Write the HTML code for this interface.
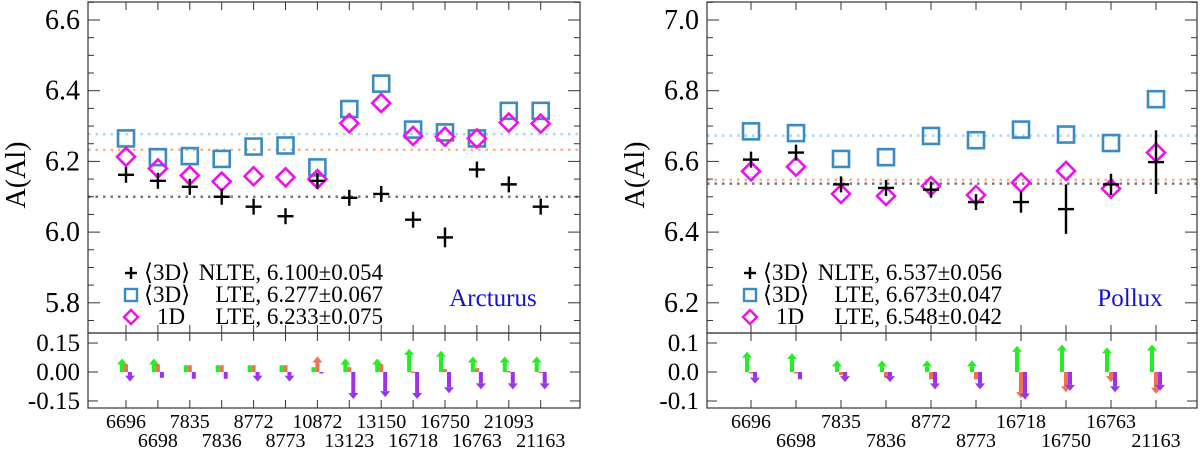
<!DOCTYPE html>
<html><head><meta charset="utf-8"><style>
html,body{margin:0;padding:0;background:#fff}
svg{display:block}
svg text{font-family:"Liberation Serif","DejaVu Serif",serif}
</style></head><body>
<svg id="c" width="1200" height="450"></svg>
<script>
// ---- Arcturus data ----
const arcLines = ["6696","6698","7835","7836","8772","8773","10872","13123","13150","16718","16750","16763","21093","21163"];
const arcNLTE = [6.162,6.145,6.128,6.100,6.072,6.045,6.145,6.097,6.108,6.035,5.985,6.177,6.135,6.072];
const arcNLTEerr = [0.006,0.008,0.006,0.006,0.005,0.005,0.012,0.006,0.018,0.006,0.028,0.006,0.006,0.006];
const arc3DLTE = [6.265,6.212,6.215,6.207,6.242,6.245,6.183,6.348,6.420,6.290,6.282,6.265,6.343,6.343];
const arc1D = [6.213,6.180,6.160,6.143,6.158,6.155,6.150,6.308,6.365,6.272,6.270,6.265,6.310,6.307];
const arcMeans = [6.100,6.277,6.233];
const arcMeanErr = ["0.054","0.067","0.075"];
const arcDGreen = [0.07,0.07,0.035,0.035,0.035,0.035,0.025,0.07,0.07,0.12,0.11,0.08,0.08,0.08];
const arcDOrange = [0.04,0.04,0.035,0.035,0.035,0.035,0.08,0.025,0.04,0.003,0.015,0.02,0.005,0.002];
const arcDPurple = [-0.05,-0.03,-0.035,-0.035,-0.05,-0.05,-0.005,-0.14,-0.13,-0.14,-0.11,-0.09,-0.09,-0.09];
const arcYTicks = [5.8,6.0,6.2,6.4,6.6];
const arcDTicks = [0.15,0.00,-0.15];
// ---- Pollux data ----
const polLines = ["6696","6698","7835","7836","8772","8773","16718","16750","16763","21163"];
const polNLTE = [6.605,6.625,6.535,6.525,6.520,6.485,6.485,6.465,6.535,6.598];
const polNLTEerr = [0.008,0.008,0.008,0.008,0.012,0.015,0.03,0.07,0.03,0.09];
const pol3DLTE = [6.685,6.680,6.607,6.612,6.672,6.660,6.690,6.676,6.652,6.776];
const pol1D = [6.572,6.585,6.508,6.502,6.530,6.505,6.540,6.573,6.523,6.625];
const polMeans = [6.537,6.673,6.548];
const polMeanErr = ["0.056","0.047","0.042"];
const polDGreen = [0.07,0.065,0.04,0.04,0.04,0.04,0.09,0.095,0.085,0.095];
const polDOrange = [-0.005,-0.005,-0.01,-0.02,-0.025,-0.025,-0.09,-0.07,-0.035,-0.075];
const polDPurple = [-0.04,-0.025,-0.035,-0.035,-0.06,-0.06,-0.095,-0.065,-0.07,-0.065];
const polYTicks = [6.2,6.4,6.6,6.8,7.0];
const polDTicks = [0.1,0.0,-0.1];

const svg = document.getElementById('c');
const NS = 'http://www.w3.org/2000/svg';
function mk(tag, attrs, parent){
  const e = document.createElementNS(NS, tag);
  for (const k in attrs) e.setAttribute(k, attrs[k]);
  if (tag === 'text') e.setAttribute('font-family', '"Liberation Serif", "DejaVu Serif", serif');
  (parent||svg).appendChild(e);
  return e;
}

function panel(o){
  const g = mk('g', {});
  
  
  const L=o.x0, R=o.x1, T=2, B=333, BT=333, BB=408;
  const yv = v => o.yTop + (o.vTop - v) * 353.5;
  const yd = v => 372 - v * o.dScale;
  const xp = i => o.xStart + i * o.dx;
  const n = o.lines.length;
  const meanCols = ['#777', '#a8d8f0', '#f5b090'];
  const meanNames = ['nlte-mean-line','lte-3d-mean-line','lte-1d-mean-line'];
  o.means.forEach((m, k) => {
    const l = mk('line', {x1:L, x2:R, y1:yv(m), y2:yv(m), stroke:meanCols[k], 'stroke-width':2.5, 'stroke-dasharray':'2.5,5'}, g);
    
    
  });
  const f1 = mk('rect', {x:L, y:T, width:R-L, height:B-T, fill:'none', stroke:'#333', 'stroke-width':1.2}, g);
  
  
  const f2 = mk('rect', {x:L, y:BT, width:R-L, height:BB-BT, fill:'none', stroke:'#333', 'stroke-width':1.2}, g);
  
  
  for (let v = o.yTicks[0] - 0.2; v <= o.yTicks[o.yTicks.length-1] + 0.21; v += 0.05) {
    const y = yv(v); if (y < T || y > B) continue;
    const major = Math.abs((v*20) % 4) < 0.01 || Math.abs((v*20) % 4 - 4) < 0.01;
    const len = major ? 12 : 6;
    mk('line', {x1:L, x2:L+len, y1:y, y2:y, stroke:'#333'}, g);
    mk('line', {x1:R, x2:R-len, y1:y, y2:y, stroke:'#333'}, g);
  }
  o.yTicks.forEach(v => {
    const t = mk('text', {x:L-8, y:yv(v)+9, 'font-size':28, 'text-anchor':'end', fill:'#000'}, g);
    t.textContent = v.toFixed(1);
    
    
  });
  o.dTicks.forEach(v => {
    const y = yd(v);
    mk('line', {x1:L, x2:L+10, y1:y, y2:y, stroke:'#333'}, g);
    mk('line', {x1:R, x2:R-10, y1:y, y2:y, stroke:'#333'}, g);
    const t = mk('text', {x:L-8, y:y+8, 'font-size':25, 'text-anchor':'end', fill:'#000'}, g);
    t.textContent = v.toFixed(o.dTickDigits).replace('-0.00','0.00').replace(/^-0\.0$/,'0.0');
    
    
  });
  const yt = mk('text', {x:0, y:0, 'font-size':28, 'text-anchor':'middle', transform:`translate(${L-63},${175}) rotate(-90)`}, g);
  yt.textContent = 'A(Al)';
  
  
  for (let i = 0; i < n; i++) {
    const x = xp(i);
    [[T,8],[B,-8],[BT,8],[BB,-8]].forEach(([y,d]) => mk('line', {x1:x, x2:x, y1:y, y2:y+d, stroke:'#333'}, g));
    const t = mk('text', {x:x, y: i%2===0 ? 428 : 447, 'font-size':20, 'text-anchor':'middle'}, g);
    t.textContent = o.lines[i];
    
    
  }
  for (let i = 0; i < n; i++) {
    const x = xp(i);
    const sq = mk('rect', {x:x-8, y:yv(o.lte[i])-8, width:16, height:16, fill:'none', stroke:'#3a8ac4', 'stroke-width':2.6}, g);
    
    
    const y1 = yv(o.d1[i]);
    const dm = mk('polygon', {points:`${x},${y1-9} ${x+9},${y1} ${x},${y1+9} ${x-9},${y1}`, fill:'none', stroke:'#ee11ee', 'stroke-width':2.6}, g);
    
    
    const yn = yv(o.nlte[i]);
    const ch = mk('g', {stroke:'#000', 'stroke-width':2.4}, g);
    
    
    mk('line', {x1:x-8, x2:x+8, y1:yn, y2:yn}, ch);
    const e = Math.max(o.err[i]*353.5, 8);
    mk('line', {x1:x, x2:x, y1:yn-e, y2:yn+e}, ch);
  }
  const arrow = (x, v, col, nm) => {
    const y0 = 372, y1 = yd(v);
    const a = mk('g', {}, g);
    
    
    const len = Math.abs(y1 - y0);
    const dir = v >= 0 ? -1 : 1;
    if (len > 8) {
      const hy = y1 - dir*6;
      mk('rect', {x:x-2, y:Math.min(y0, hy), width:4, height:Math.abs(hy-y0), fill:col}, a);
      mk('polygon', {points:`${x-5},${hy} ${x+5},${hy} ${x},${y1}`, fill:col}, a);
    } else {
      mk('rect', {x:x-2, y:Math.min(y0,y1), width:4, height:Math.max(len,1.5), fill:col}, a);
    }
  };
  for (let i = 0; i < n; i++) {
    const x = xp(i);
    arrow(x-4, o.dG[i], '#22ee22', 'nlte-correction-arrow');
    arrow(x, o.dO[i], '#f07050', 'lte-3d-correction-arrow');
    arrow(x+4, o.dP[i], '#9933ee', 'lte-1d-correction-arrow');
  }
  const lg = mk('g', {}, g);
  
  
  const lx = L + 43, rows = [273, 295, 317];
  const labels = [['⟨3D⟩','NLTE'],['⟨3D⟩','LTE'],['1D','LTE']];
  rows.forEach((ry, k) => {
    if (k===0){ mk('line',{x1:lx-6,x2:lx+6,y1:ry,y2:ry,stroke:'#000','stroke-width':2.4},lg); mk('line',{x1:lx,x2:lx,y1:ry-6,y2:ry+6,stroke:'#000','stroke-width':2.4},lg); }
    if (k===1) mk('rect',{x:lx-6,y:ry-6,width:12,height:12,fill:'none',stroke:'#3a8ac4','stroke-width':2.4},lg);
    if (k===2) mk('polygon',{points:`${lx},${ry-7} ${lx+7},${ry} ${lx},${ry+7} ${lx-7},${ry}`,fill:'none',stroke:'#ee11ee','stroke-width':2.4},lg);
    const t1 = mk('text',{x:lx+(k===2?26:13), y:ry+7,'font-size':23},lg); t1.textContent = labels[k][0];
     
    const t2 = mk('text',{x:lx+252, y:ry+7,'font-size':23,'text-anchor':'end'},lg);
    t2.textContent = labels[k][1] + ', ' + o.means[k].toFixed(3) + '±' + o.meanErr[k];
     
  });
  const st = mk('text',{x:o.starX, y:306,'font-size':25,fill:'#1010dd','text-anchor':'middle'}, g);
  st.textContent = o.star;
  
  
}

panel({name:'arcturus', star:'Arcturus', starX:493, x0:88, x1:580, xStart:126, dx:31.9, yTop:20, vTop:6.6, dScale:193,
  lines:arcLines, nlte:arcNLTE, err:arcNLTEerr, lte:arc3DLTE, d1:arc1D, means:arcMeans, meanErr:arcMeanErr,
  dG:arcDGreen, dO:arcDOrange, dP:arcDPurple, yTicks:arcYTicks, dTicks:arcDTicks, dTickDigits:2});
panel({name:'pollux', star:'Pollux', starX:1130, x0:707, x1:1197, xStart:751, dx:45, yTop:20, vTop:7.0, dScale:290,
  lines:polLines, nlte:polNLTE, err:polNLTEerr, lte:pol3DLTE, d1:pol1D, means:polMeans, meanErr:polMeanErr,
  dG:polDGreen, dO:polDOrange, dP:polDPurple, yTicks:polYTicks, dTicks:polDTicks, dTickDigits:1});
</script>
</body></html>
